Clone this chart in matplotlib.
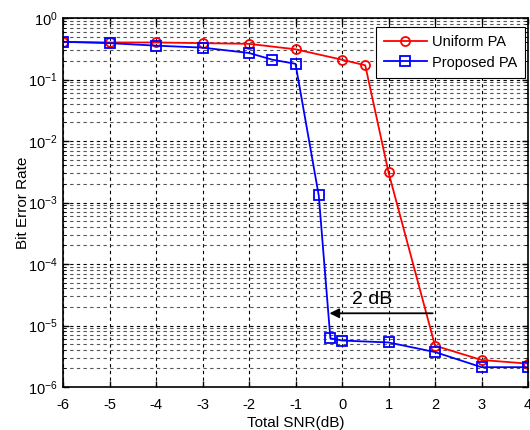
import matplotlib
matplotlib.use("Agg")
import matplotlib.pyplot as plt
from matplotlib.ticker import LogLocator, NullFormatter, FixedLocator

plt.rcParams['font.family'] = ['Liberation Sans', 'DejaVu Sans']
plt.rcParams['mathtext.fontset'] = 'custom'
plt.rcParams['mathtext.rm'] = 'Liberation Sans'
plt.rcParams['mathtext.it'] = 'Liberation Sans'

x_uniform = [-6, -5, -4, -3, -2, -1, 0, 0.5, 1, 2, 3, 4]
ber_uniform = [0.41, 0.40, 0.40, 0.39, 0.38, 0.31, 0.21, 0.17, 3.1e-3, 4.7e-6, 2.75e-6, 2.4e-6]

x_proposed = [-6, -5, -4, -3, -2, -1.5, -1, -0.5, -0.25, 0, 1, 2, 3, 4]
ber_proposed = [0.41, 0.39, 0.355, 0.33, 0.27, 0.21, 0.18, 1.3e-3, 6.2e-6, 5.7e-6, 5.3e-6, 3.7e-6, 2.1e-6, 2.1e-6]

xticks = [-6, -5, -4, -3, -2, -1, 0, 1, 2, 3, 4]

fig = plt.figure(figsize=(5.3, 4.3), dpi=100)
ax = fig.add_axes([63/530, 1 - 387/430, (528 - 63)/530, (387 - 18)/430])

ax.semilogy(x_uniform, ber_uniform, color='#ff0000', lw=1.3, marker='o', ms=6.5,
            mfc='none', mec='#ff0000', mew=1.3, label='Uniform PA')
ax.semilogy(x_proposed, ber_proposed, color='#0000ff', lw=1.3, marker='s', ms=6.5,
            mfc='none', mec='#0000ff', mew=1.3, label='Proposed PA')

ax.set_xlim(-6, 4)
ax.set_ylim(1e-6, 1)
ax.xaxis.set_major_locator(FixedLocator(xticks))
ax.set_xticklabels([str(t) for t in xticks])
ax.yaxis.set_major_locator(LogLocator(base=10, numticks=10))
ax.yaxis.set_minor_locator(LogLocator(base=10, subs=range(2, 10), numticks=20))
ax.yaxis.set_minor_formatter(NullFormatter())

ax.grid(True, which='major', axis='both', color='black', linestyle=(0, (3, 3)), lw=0.8)
ax.grid(True, which='minor', axis='y', color='#555555', linestyle=(0, (3, 3)), lw=0.8)
ax.tick_params(which='both', direction='in', labelsize=10.5, top=True, right=True)
ax.tick_params(axis='x', which='major', pad=8)
ax.tick_params(axis='y', which='major', pad=4)
ax.tick_params(which='major', length=4, width=1)
ax.tick_params(which='minor', length=2)
for s in ax.spines.values():
    s.set_linewidth(1.2)

ax.set_xlabel('Total SNR(dB)', fontsize=11, labelpad=3)
ax.set_ylabel('Bit Error Rate', fontsize=11, labelpad=-2)

ax.annotate('', xy=(-0.27, 1.58e-5), xytext=(1.95, 1.58e-5),
            arrowprops=dict(arrowstyle='-|>', color='black', lw=1.3,
                            mutation_scale=14, shrinkA=0, shrinkB=0))
ax.text(0.65, 2.6e-5, '2 dB', fontsize=14, ha='center', va='center')

leg = ax.legend(loc='upper right', bbox_to_anchor=(525/530, 1 - 27/430),
                bbox_transform=fig.transFigure, borderaxespad=0,
                fontsize=10.5, fancybox=False, framealpha=1,
                edgecolor='black', handlelength=3.0, handletextpad=0.3,
                borderpad=0.55, labelspacing=0.45)
leg.get_frame().set_linewidth(0.8)

fig.savefig('out.png', dpi=100)
